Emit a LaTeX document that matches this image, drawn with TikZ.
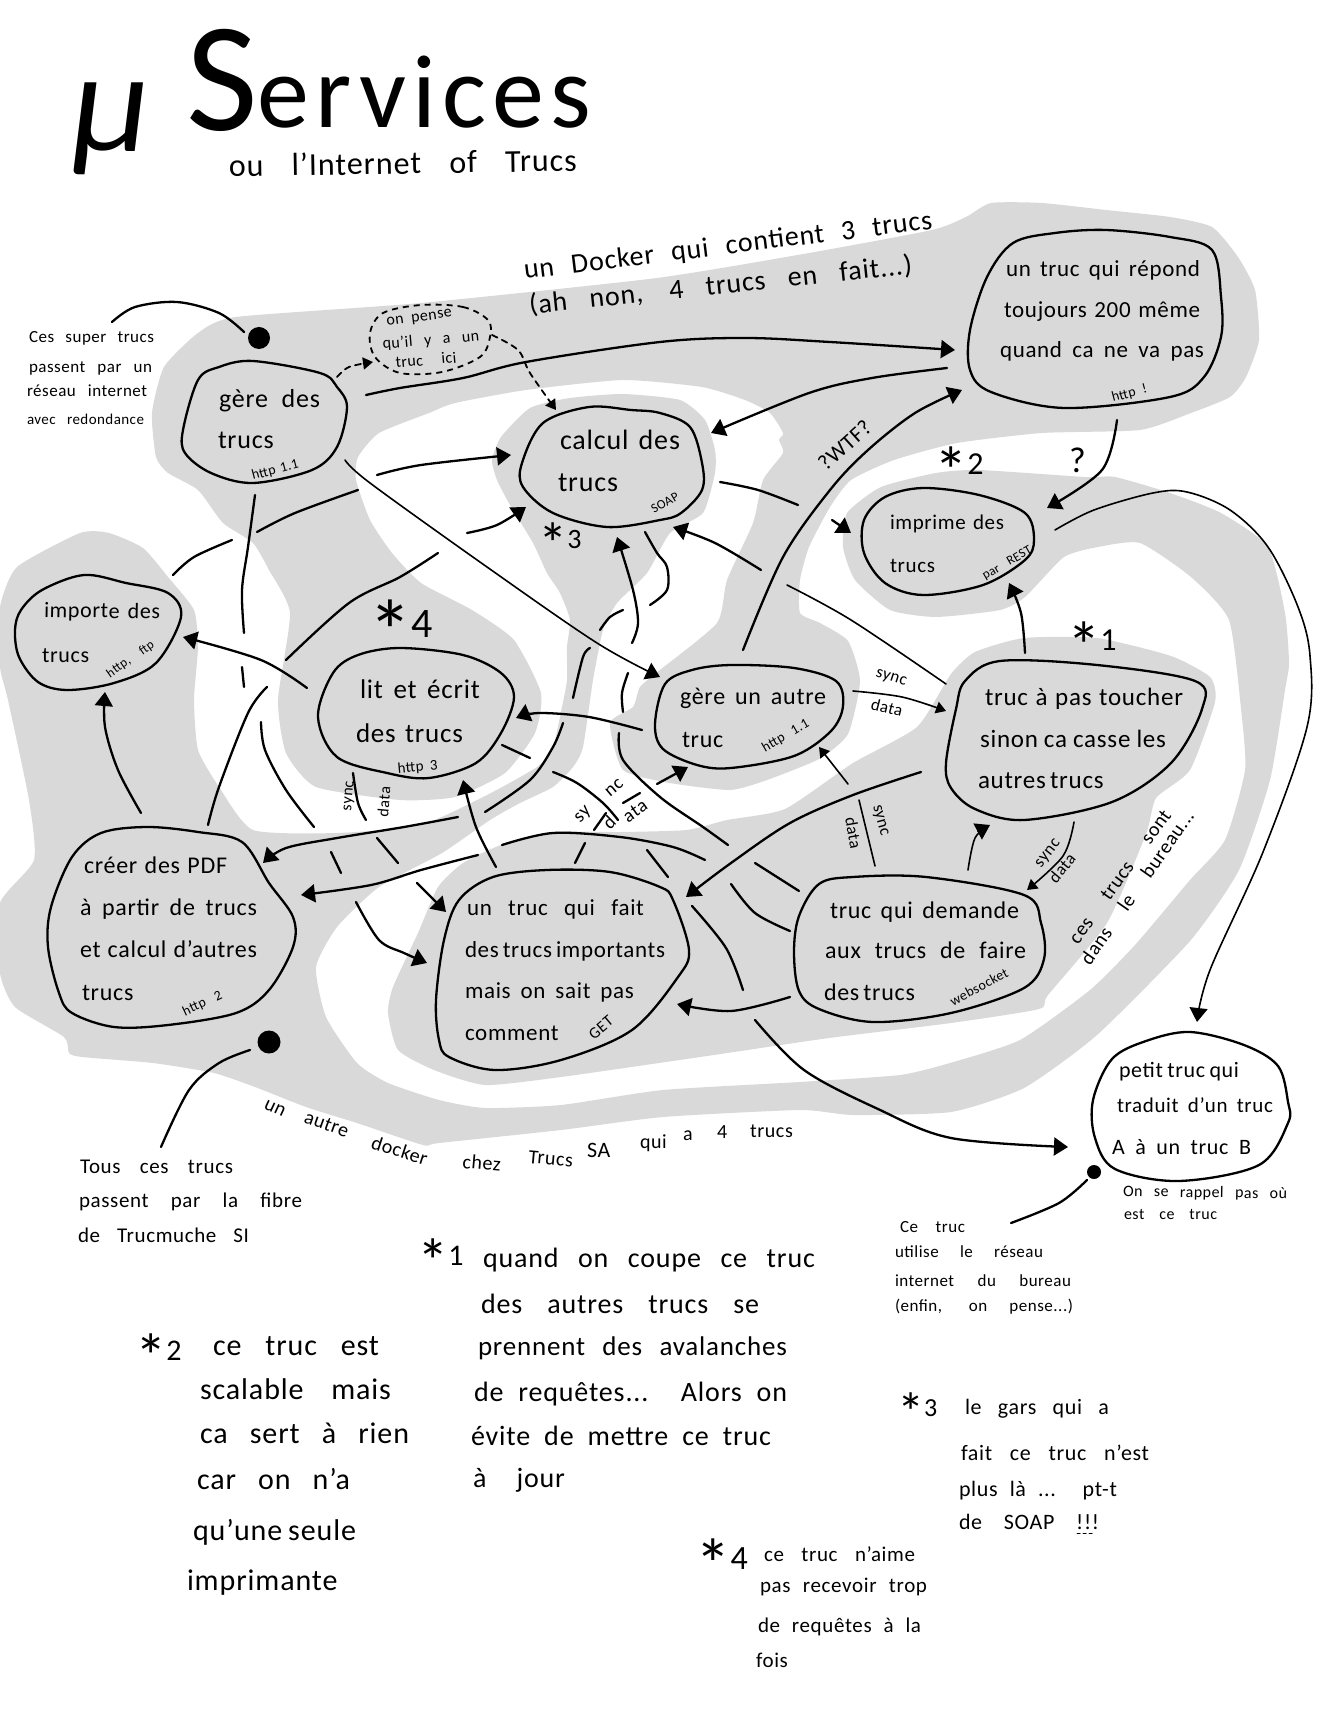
\documentclass[tikz,border=0pt]{standalone}
\usepackage{fontspec}
\usepackage{graphicx}
\setmainfont[LetterSpace=3]{Carlito}
\usetikzlibrary{arrows.meta}
\definecolor{greyzone}{HTML}{D9D9D9}
\tikzset{
  zone/.style={fill=greyzone,draw=none},
  blob/.style={draw=black,line width=1.15pt,line join=round},
  conn/.style={draw=black,line width=1.15pt,line cap=round,line join=round},
  thin conn/.style={conn,line width=.8pt},
  tip/.style={-{Triangle[length=7pt,width=9pt]}},
  smalltip/.style={-{Triangle[length=5pt,width=6pt]}},
  dash conn/.style={conn,line width=.9pt,dash pattern=on 3pt off 2.5pt},
  txt/.style={anchor=base west,inner sep=0pt,outer sep=0pt},
  spot/.style={circle,fill=black,inner sep=0pt}
}
\newcommand\zn[1]{\fill[zone] plot[smooth cycle,tension=.35] coordinates {#1};}
\newcommand\blb[2][]{\draw[blob,#1] plot[smooth cycle,tension=.55] coordinates {#2};}
\newcommand\cn[5][]{\coordinate (#2a) at (#3);\coordinate (#2b) at (#5);\draw[conn,#1] plot[smooth,tension=.55] coordinates {(#2a) #4 (#2b)};}
\newcommand\tl[7]{\node[txt,rotate=#6] (#1) at (#2,#3) {\fontsize{#5pt}{#5pt}\selectfont\makebox[\dimexpr#4pt/2\relax][s]{#7}};}
\newcommand\bigast{\raisebox{-.6em}{\scalebox{2.1}{*}}}
\begin{document}
\begin{tikzpicture}[x=.5pt,y=-.5pt]
\useasboundingbox (0,0) rectangle (1326,1716);
\fill[white] (0,0) rectangle (1326,1716);
% grey zones
\zn{(236,317)(421,303)(657,278)(809,253)(932,230)(966,217)(991,203)(1042,203)(1106,210)(1170,217)(1212,227)(1238,257)(1255,290)(1259,340)(1246,377)(1230,397)(1191,413)(1140,430)(1042,433)(957,443)(894,460)(851,480)(830,507)(809,547)(800,580)(800,613)(820,623)(848,641)(860,681)(848,734)(819,759)(767,780)(730,790)(670,783)(623,770)(610,723)(633,707)(640,687)(660,670)(717,623)(727,580)(753,523)(763,480)(783,453)(779,440)(783,433)(770,413)(745,400)(702,387)(623,380)(526,390)(455,403)(429,413)(379,433)(358,457)(356,480)(370,520)(392,553)(421,583)(472,610)(514,640)(541,693)(535,733)(505,773)(455,797)(400,800)(316,787)(286,753)(278,700)(290,613)(269,570)(253,543)(223,523)(198,490)(168,473)(156,457)(152,413)(164,367)(198,333)}
\zn{(80,533)(109,533)(143,548)(168,577)(194,610)(198,647)(194,700)(198,750)(219,787)(253,830)(337,833)(421,825)(487,795)(537,767)(553,747)(562,707)(567,680)(567,647)(570,620)(560,593)(547,573)(533,543)(510,505)(497,480)(492,460)(501,437)(530,408)(570,398)(623,394)(680,400)(705,420)(715,450)(715,473)(703,513)(670,533)(647,573)(617,603)(603,630)(593,680)(583,747)(573,767)(553,787)(520,803)(490,820)(442,853)(379,887)(337,927)(316,967)(326,1017)(357,1063)(388,1083)(439,1100)(485,1108)(561,1105)(663,1090)(800,1082)(900,1075)(950,1063)(1020,1040)(1090,990)(1135,945)(1190,880)(1225,840)(1245,770)(1241,709)(1229,620)(1191,577)(1140,543)(1098,547)(1064,557)(1025,597)(1000,610)(936,617)(890,610)(855,580)(843,547)(847,513)(881,487)(936,473)(979,470)(1085,477)(1115,477)(1170,493)(1221,513)(1268,547)(1285,613)(1289,663)(1285,690)(1270,780)(1239,870)(1190,941)(1097,1035)(1024,1088)(951,1112)(853,1115)(800,1110)(663,1117)(561,1130)(439,1143)(423,1145)(357,1123)(306,1107)(255,1087)(214,1073)(153,1063)(82,1057)(69,1053)(64,1037)(15,1007)(0,973)(0,903)(34,860)(29,800)(8,700)(0,667)(0,607)(17,567)}
\zn{(393,987)(418,933)(438,887)(463,863)(501,845)(553,832)(620,832)(687,830)(727,820)(785,809)(853,763)(917,727)(951,674)(975,652)(1024,638)(1097,638)(1171,656)(1210,677)(1215,702)(1190,770)(1156,798)(1146,834)(1107,923)(1048,995)(1039,1009)(951,1023)(829,1038)(707,1056)(561,1077)(485,1085)(434,1070)(398,1050)(388,1013)}
% blobs
\blb{(253,361)(320,373)(337,387)(347,407)(337,447)(312,470)(253,483)(211,473)(185,453)(183,430)(198,380)(219,367)}
\blb{(589,407)(631,410)(660,413)(690,427)(702,463)(702,490)(681,513)(660,520)(607,527)(553,513)(523,487)(522,463)(543,423)}
\blb{(42,590)(84,575)(126,583)(168,593)(181,617)(156,663)(114,683)(67,690)(38,682)(19,657)(15,630)(21,610)}
\blb{(400,648)(463,655)(501,673)(514,697)(501,733)(476,763)(429,778)(387,773)(337,757)(318,717)(333,673)(358,655)}
\blb{(147,827)(198,832)(242,842)(269,883)(293,917)(293,947)(269,990)(236,1013)(168,1025)(114,1027)(72,1013)(59,993)(48,947)(51,907)(72,857)(101,833)}
\blb{(547,870)(610,872)(660,887)(673,900)(689,950)(678,977)(632,1030)(561,1060)(495,1070)(449,1057)(439,1040)(436,1000)(444,940)(459,900)(493,877)}
\blb{(731,665)(794,668)(836,681)(843,706)(831,731)(794,756)(731,768)(697,765)(663,749)(655,724)(665,684)(692,670)}
\blb{(1000,661)(1097,665)(1195,681)(1202,709)(1171,763)(1112,802)(1024,820)(975,809)(951,788)(946,763)(956,709)(965,681)}
\blb{(853,877)(926,877)(1024,895)(1041,923)(1044,959)(1024,988)(951,1013)(873,1022)(819,1009)(799,991)(794,952)(799,916)(819,884)}
\blb{(1106,230)(1170,237)(1212,250)(1221,297)(1221,337)(1204,377)(1170,397)(1064,408)(991,392)(970,370)(970,330)(987,277)(1013,243)(1055,233)}
\blb{(923,488)(979,495)(1025,513)(1034,540)(1025,560)(983,585)(923,595)(885,583)(864,553)(864,520)(885,497)}
\blb{(1190,1032)(1244,1045)(1278,1066)(1288,1102)(1288,1123)(1259,1165)(1179,1181)(1115,1169)(1095,1138)(1093,1100)(1112,1059)(1146,1041)}
\blb[line width=.9pt,dash pattern=on 3pt off 2.5pt]{(421,305)(463,307)(488,320)(490,337)(480,357)(442,372)(400,373)(375,357)(370,333)(383,313)}
% spots
\node[spot,minimum size=11pt] (dota) at (259,338) {};
\node[spot,minimum size=11.5pt] (dotb) at (269,1042) {};
\node[spot,minimum size=7pt] (dotc) at (1094,1172) {};
% connectors
\cn{cdota}{112,322}{(135,307)(177,302)(219,313)}{244,332}
\cn{cdotb}{250,1050}{(219,1063)(189,1090)}{161,1147}
\cn{cdotc}{1087,1180}{(1059,1203)}{1011,1223}
\cn[dash conn,smalltip]{dsa}{337,377}{(349,367)}{373,362}
\cn[dash conn,smalltip]{dsb}{492,335}{(518,350)(530,373)}{556,410}
\cn[tip]{gr}{366,395}{(400,388)(463,378)(526,362)(660,342)(745,338)(830,342)}{955,350}
\cn[tip]{rc}{947,368}{(872,378)(809,393)}{711,433}
\cn[tip]{gc}{377,475}{(421,465)}{511,455}
\cn[tip]{pc}{467,533}{(497,525)}{526,507}
\cn{pca}{438,553}{(400,577)(349,603)}{286,660}
\cn{pcb}{267,687}{(248,713)(219,787)}{208,825}
\cn[thin conn,tip]{ga}{345,460}{(370,483)(487,567)(597,643)}{660,677}
\cn{va}{255,495}{(248,547)(242,590)}{244,633}
\cn{vb}{242,667}{}{244,687}
\cn{vc}{261,722}{(265,750)(286,790)}{314,827}
\cn{vd}{331,852}{}{341,873}
\cn[tip]{ve}{356,902}{(379,940)(404,953)}{427,963}
\cn{ia}{358,490}{(295,513)}{257,532}
\cn{ib}{232,540}{(194,557)}{173,575}
\cn[tip]{li}{307,688}{(261,660)}{183,637}
\cn[tip]{ci}{141,813}{(118,770)(105,727)}{105,692}
\cn{sa}{353,773}{(358,803)}{366,820}
\cn{sb}{377,838}{}{398,863}
\cn[tip]{sc}{417,883}{}{446,912}
\cn[tip]{al}{642,730}{(589,717)(539,713)}{516,718}
\cn{ba}{485,812}{(530,780)(553,747)}{563,723}
\cn{bb}{573,698}{(583,657)}{590,648}
\cn{bc}{600,630}{(610,617)}{623,610}
\cn{bd}{650,605}{(667,590)(667,567)(657,553)}{645,532}
\cn[tip]{be}{458,817}{(404,827)(337,838)(286,848)}{263,863}
\cn[tip]{il}{496,867}{(476,827)}{463,780}
\cn[tip]{ic}{478,855}{(421,870)(371,885)}{301,895}
\cn[tip]{ac}{632,643}{(638,623)(633,590)}{617,537}
\cn{da}{628,673}{(622,693)}{623,712}
\cn{db}{619,733}{(623,760)(660,797)(703,827)}{728,845}
\cn{dc}{755,863}{}{799,891}
\cn{dd}{731,884}{(755,913)}{790,931}
\cn{de}{692,906}{(726,948)}{743,990}
\cn[tip]{df}{755,1020}{(804,1070)(878,1109)(951,1138)}{1068,1147}
\cn{la}{553,772}{(577,783)(603,803)}{618,820}
\cn{lb}{502,745}{}{530,758}
\cn[tip]{lc}{657,784}{}{688,767}
\cn{xa}{502,845}{(553,833)(620,837)(673,847)}{705,860}
\cn{xb}{585,843}{}{575,863}
\cn{xc}{647,850}{}{668,877}
\cn{sya}{594,830}{}{606,813}
\cn{syb}{623,803}{}{640,793}
\cn[tip]{ti}{921,772}{(853,795)(790,823)(731,863)}{686,897}
\cn[thin conn]{tc}{787,585}{(851,620)}{946,684}
\cn[tip]{ar}{743,650}{(783,557)(830,490)(868,450)(915,413)}{962,390}
\cn{ca}{720,482}{(758,490)}{798,505}
\cn[tip]{cb}{832,520}{}{851,533}
\cn[tip]{as}{761,570}{(715,543)}{673,527}
\cn[tip]{tm}{1025,653}{(1021,613)}{1009,583}
\cn[tip]{rm}{1117,420}{(1102,470)}{1047,508}
\cn[tip,thin conn]{mp}{1055,530}{(1094,510)(1153,493)(1187,492)(1230,510)(1268,547)(1298,607)(1310,656)(1307,727)(1263,852)(1210,970)}{1197,1022}
\cn[thin conn,smalltip]{at}{853,691}{(902,697)}{946,711}
\cn[thin conn,smalltip]{dam}{848,784}{}{819,747}
\cn[thin conn]{ds}{859,800}{}{875,866}
\cn[tip,thin conn]{dt}{968,870}{(975,838)}{990,825}
\cn[thin conn,smalltip]{td}{1074,822}{(1063,856)}{1027,890}
\cn[tip]{di}{790,997}{(731,1011)}{677,1004}
\cn[line width=.5pt,dash pattern=on 1.5pt off 1.5pt]{ul}{1077,1533}{}{1093,1533}
% title
\node[txt] (titmu) at (72,152) {\fontsize{72pt}{72pt}\selectfont\itshape μ};
\node[txt] (titserv) at (186,128) {\fontsize{52pt}{52pt}\selectfont\addfontfeatures{LetterSpace=6}\raisebox{-.02em}{\scalebox{1.5}{S}}ervices};
\tl{tsub}{229}{177}{348}{16}{1}{ou l'Internet of Trucs}
% top labels
\tl{tdka}{525}{279}{411}{14}{7}{un Docker qui contient 3 trucs}
\tl{tdkb}{530}{314}{385}{14}{6}{(ah non, 4 trucs en fait...)}
\tl{tla}{29}{343}{125}{8.5}{0}{Ces super trucs}
\tl{tlb}{29}{373}{123}{8.5}{0}{passent par un}
\tl{tlc}{27}{397}{120}{8.5}{0}{réseau internet}
\tl{tld}{27}{425}{117}{7.5}{0}{avec redondance}
% gere
\tl{tga}{219}{408}{101}{13}{0}{gère des}
\tl{tgb}{218}{449}{56}{13}{0}{trucs}
\tl{tgc}{253}{480}{48}{7}{15}{http 1.1}
\tl{tpa}{387}{326}{66}{8}{8}{on pense}
\tl{tpb}{383}{349}{97}{8}{5}{qu'il y a un}
\tl{tpc}{396}{368}{61}{8}{5}{truc ici}
% calcul
\tl{tca}{560}{450}{120}{14}{0}{calcul des}
\tl{tcb}{558}{492}{55}{14}{0}{trucs}
\tl{tcc}{654}{514}{32}{6.5}{30}{SOAP}
\tl{tst3}{538}{548}{27}{14}{0}{\bigast 3}
% importe
\tl{tia}{44}{617}{116}{11}{-1}{importe des}
\tl{tib}{42}{662}{44}{11}{0}{trucs}
\tl{tic}{110}{678}{55}{6.5}{35}{http, ftp}
% lit
\tl{tst4}{368}{637}{55}{21}{0}{\bigast 4}
\tl{tha}{360}{698}{120}{13.5}{0}{lit et écrit}
\tl{thb}{356}{742}{107}{13.5}{0}{des trucs}
\tl{thc}{398}{773}{40}{7.5}{5}{http 3}
\tl{tsa}{351}{811}{38}{8}{85}{sync}
\tl{tsb}{388}{817}{35}{8}{85}{data}
% autre
\tl{taa}{680}{704}{146}{12}{0}{gère un autre}
\tl{tab}{682}{747}{37}{12}{0}{truc}
\tl{tac}{765}{752}{52}{7}{30}{http 1.1}
\tl{tsc}{875}{676}{40}{8.5}{-18}{sync}
\tl{tsd}{870}{709}{38}{8.5}{-14}{data}
\tl{tse}{580}{823}{20}{9.5}{45}{sy}
\tl{tsf}{610}{797}{20}{9.5}{40}{nc}
\tl{tsg}{610}{830}{10}{9.5}{45}{d}
\tl{tsh}{628}{823}{30}{9.5}{35}{ata}
% toucher
\tl{tst1}{1067}{650}{44}{16}{0}{\bigast 1}
\tl{tta}{985}{705}{198}{12.5}{0}{truc à pas toucher}
\tl{ttb}{980}{747}{186}{12.5}{0}{sinon ca casse les}
\tl{ttc}{978}{788}{122}{12.5}{0}{autres trucs}
\tl{tsi}{1041}{868}{45}{8.5}{52}{sync}
\tl{tsj}{1056}{884}{45}{8.5}{50}{data}
\tl{tsk}{873}{806}{42}{8.5}{-75}{sync}
\tl{tsl}{845}{818}{40}{8.5}{-80}{data}
% demande
\tl{tda}{830}{918}{189}{12}{0}{truc qui demande}
\tl{tdb}{825}{958}{201}{12}{0}{aux trucs de faire}
\tl{tdc}{824}{1000}{90}{12}{0}{des trucs}
\tl{tdd}{953}{1006}{75}{7}{28}{websocket}
% important
\tl{tma}{467}{915}{177}{11.5}{0}{un truc qui fait}
\tl{tmb}{465}{957}{195}{11.5}{0}{des trucs importants}
\tl{tmc}{465}{998}{169}{11.5}{0}{mais on sait pas}
\tl{tmd}{465}{1040}{84}{11.5}{0}{comment}
\tl{tme}{594}{1040}{32}{8}{40}{GET}
% creer
\tl{tra}{84}{873}{143}{12}{0}{créer des PDF}
\tl{trb}{80}{915}{177}{12}{0}{à partir de trucs}
\tl{trc}{80}{957}{177}{12}{0}{et calcul d'autres}
\tl{trd}{82}{1000}{46}{12}{0}{trucs}
\tl{tre}{185}{1016}{42}{7}{25}{http 2}
% reponse
\tl{toa}{1006}{277}{194}{11.5}{0}{un truc qui répond}
\tl{tob}{1004}{318}{196}{11.5}{0}{toujours 200 même}
\tl{toc}{1000}{358}{204}{11.5}{0}{quand ca ne va pas}
\tl{tod}{1113}{402}{36}{7}{15}{http !}
\tl{twtf}{826}{472}{80}{11}{42}{?WTF?}
\tl{tqm}{1069}{473}{20}{18}{0}{?}
\tl{tst2}{934}{475}{44}{16}{0}{\bigast 2}
% imprime
\tl{tea}{890}{530}{114}{10.5}{0}{imprime des}
\tl{teb}{890}{573}{44}{10.5}{0}{trucs}
\tl{tec}{985}{580}{55}{6.5}{30}{par REST}
% petit
\tl{tfa}{1119}{1077}{120}{11}{0}{petit truc qui}
\tl{tfb}{1117}{1112}{156}{10.5}{0}{traduit d'un truc}
\tl{tfc}{1112}{1154}{139}{11}{0}{A à un truc B}
\tl{tfd}{1123}{1196}{164}{8}{-1}{On se rappel pas où}
\tl{tfe}{1124}{1219}{93}{8}{0}{est ce truc}
\tl{tfg}{900}{1232}{65}{8.5}{0}{Ce truc}
\tl{tfh}{895}{1257}{148}{8.5}{0}{utilise le réseau}
\tl{tfi}{895}{1286}{176}{8.5}{0}{internet du bureau}
\tl{tfj}{895}{1311}{178}{8.5}{0}{(enfin, on pense...)}
\tl{tba}{1078}{945}{160}{10}{54}{ces trucs sont}
\tl{tbb}{1090}{966}{183}{10}{55}{dans le bureau...}
% second docker
\tl{tua}{263}{1108}{20}{10}{-25}{un}
\tl{tub}{303}{1122}{50}{10}{-20}{autre}
\tl{tuc}{370}{1148}{66}{10}{-18}{docker}
\tl{tud}{462}{1168}{43}{10}{-5}{chez}
\tl{tue}{528}{1163}{48}{10}{-5}{Trucs}
\tl{tuf}{587}{1157}{30}{11}{0}{SA}
\tl{tug}{640}{1148}{23}{10}{0}{qui}
\tl{tuh}{683}{1140}{11}{10}{0}{a}
\tl{tui}{717}{1138}{13}{10}{0}{4}
\tl{tuj}{750}{1137}{46}{10}{0}{trucs}
\tl{tvb}{80}{1173}{153}{10.5}{0}{Tous ces trucs}
\tl{tvc}{79}{1207}{223}{10.5}{0}{passent par la fibre}
\tl{tvd}{78}{1242}{171}{10.5}{0}{de Trucmuche SI}
% note 1
\tl{tn1}{417}{1265}{36}{15}{0}{\bigast 1}
\tl{tna}{483}{1267}{332}{14}{0}{quand on coupe ce truc}
\tl{tnb}{481}{1313}{278}{14}{0}{des autres trucs se}
\tl{tnc}{478}{1355}{309}{13.5}{0}{prennent des avalanches}
\tl{tnd}{474}{1401}{313}{14}{0}{de requêtes... Alors on}
\tl{tne}{471}{1445}{300}{14}{0}{évite de mettre ce truc}
\tl{tnf}{473}{1487}{92}{14}{0}{à jour}
% note 2
\tl{tm2}{135}{1360}{45}{15}{0}{\bigast 2}
\tl{tmf}{213}{1355}{166}{15}{0}{ce truc est}
\tl{tmg}{200}{1399}{191}{15}{0}{scalable mais}
\tl{tmh}{200}{1443}{209}{15}{0}{ca sert à rien}
\tl{tmi}{197}{1489}{153}{15}{0}{car on n'a}
\tl{tmj}{193}{1540}{163}{15}{0}{qu'une seule}
\tl{tmk}{187}{1590}{148}{15}{0}{imprimante}
% note 4
\tl{tq4}{695}{1569}{41}{17}{0}{\bigast 4}
\tl{tqa}{764}{1561}{151}{10.5}{0}{ce truc n'aime}
\tl{tqb}{760}{1592}{167}{10.5}{0}{pas recevoir trop}
\tl{tqc}{758}{1632}{163}{10.5}{0}{de requêtes à la}
\tl{tqd}{756}{1667}{32}{10.5}{0}{fois}
% note 3
\tl{tp3}{897}{1416}{32}{13}{0}{\bigast 3}
\tl{tpa3}{965}{1414}{144}{11}{0}{le gars qui a}
\tl{tpb3}{961}{1460}{188}{11}{0}{fait ce truc n'est}
\tl{tpc3}{959}{1496}{158}{11}{0}{plus là ... pt-t}
\tl{tpd3}{959}{1529}{140}{11}{0}{de SOAP !!!}
\end{tikzpicture}
\end{document}
